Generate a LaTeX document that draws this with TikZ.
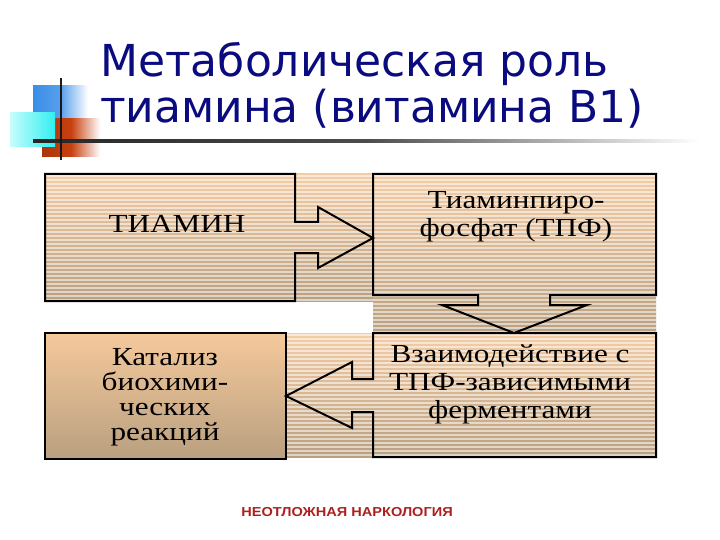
\documentclass[tikz,border=0pt]{standalone}
\usepackage{fontspec}
\setmainfont{Liberation Serif}
\newfontfamily\titlefont{DejaVu Sans}
\newfontfamily\footfont{Liberation Sans}
\definecolor{titleblue}{HTML}{0B0B80}
\definecolor{footred}{HTML}{AE1F1F}
\definecolor{peachtop}{HTML}{F4CDA5}
\definecolor{tanbot}{HTML}{B9A080}
\definecolor{sqblue}{HTML}{3A8EE8}
\definecolor{sqcyan}{HTML}{30F0F0}
\definecolor{sqcyanl}{HTML}{C8FCFC}
\definecolor{sqred}{HTML}{C8400F}
\pgfdeclarehorizontalshading{titleline}{100bp}{color(0bp)=(black!85); color(25bp)=(black!85); color(50bp)=(black!70); color(75bp)=(white); color(100bp)=(white)}
\tikzset{
  outline/.style={draw=black, line width=2pt, line join=miter},
  stripe/.style={draw=white, draw opacity=0.55, line width=1.6pt},
  boxtext/.style={font=\fontsize{26}{28}\selectfont, align=center, inner sep=0pt},
}
\newcommand\stripebg[4]{%
  \shade[top color=peachtop, bottom color=tanbot] (#1,#2) rectangle (#3,#4);
  \begin{scope}
    \clip (#1,#2) rectangle (#3,#4);
    \pgfmathtruncatemacro\nlines{(#4-#2)/4}
    \foreach \k in {0,...,\nlines}
      \draw[stripe] (#1,{#2+4*\k+2}) -- (#3,{#2+4*\k+2});
  \end{scope}}
\newcommand\wide[1]{\scalebox{1.2}[1]{#1}}
\begin{document}
\begin{tikzpicture}[x=1pt,y=-1pt]
\useasboundingbox (0,0) rectangle (720,540);
\fill[white] (0,0) rectangle (720,540);

% decorative squares
\shade[left color=sqblue, right color=white, middle color=sqblue!85] (33,86) rectangle (88,120);
\shade[left color=sqred!85!black, right color=white, middle color=sqred] (42,119) rectangle (100,157);
\shade[left color=sqcyanl, right color=sqcyan] (10,113) rectangle (55,147);
\shade[shading=titleline] (33,139.5) rectangle (700,142.5);
\draw[black!90, line width=2pt] (61,78) -- (61,160);

% title
\node[anchor=base west, inner sep=0pt, text=titleblue, font=\titlefont\fontsize{44}{50}\selectfont] (title1) at (100,77) {Метаболическая роль};
\node[anchor=base west, inner sep=0pt, text=titleblue, font=\titlefont\fontsize{44}{50}\selectfont] (title2) at (100,123) {тиамина (витамина В1)};

% backgrounds
\stripebg{45}{174}{373}{301}
\stripebg{373}{174}{656}{333}
\stripebg{286}{333}{656}{457}
\shade[top color=peachtop!70!orange!20!peachtop, bottom color=tanbot] (45,333) rectangle (286,459);

% callout 1 (right arrow)
\draw[outline] (45,174) -- (295,174) -- (295,222) -- (318,222) -- (318,207) -- (373,238)
  -- (318,268) -- (318,253) -- (295,253) -- (295,301) -- (45,301) -- cycle;
% callout 2 (down arrow)
\draw[outline] (373,174) -- (656,174) -- (656,295) -- (550,295) -- (550,305) -- (587,305)
  -- (514,333) -- (442,305) -- (478,305) -- (478,295) -- (373,295) -- cycle;
% callout 4 (left arrow)
\draw[outline] (373,333) -- (656,333) -- (656,457) -- (373,457) -- (373,412) -- (352,412)
  -- (352,428) -- (286,396) -- (352,362) -- (352,379) -- (373,379) -- cycle;
% box 3
\draw[outline] (45,333) rectangle (286,459);

% texts
\node[boxtext] (t1) at (177,224) {\wide{ТИАМИН}};
\node[boxtext] (t2) at (516,217) {\wide{Тиаминпиро-}\\\wide{фосфат (ТПФ)}};
\node[boxtext, font=\fontsize{26}{25}\selectfont] (t3) at (165,397) {\wide{Катализ}\\\wide{биохими-}\\\wide{ческих}\\\wide{реакций}};
\node[boxtext, font=\fontsize{26}{28}\selectfont] (t4) at (510,384) {\wide{Взаимодействие с}\\\wide{ТПФ-зависимыми}\\\wide{ферментами}};

% footer
\node[inner sep=0pt, text=footred, font=\footfont\bfseries\fontsize{13}{15}\selectfont] (foot) at (347,512) {\scalebox{1.12}[1]{НЕОТЛОЖНАЯ НАРКОЛОГИЯ}};
\end{tikzpicture}
\end{document}
